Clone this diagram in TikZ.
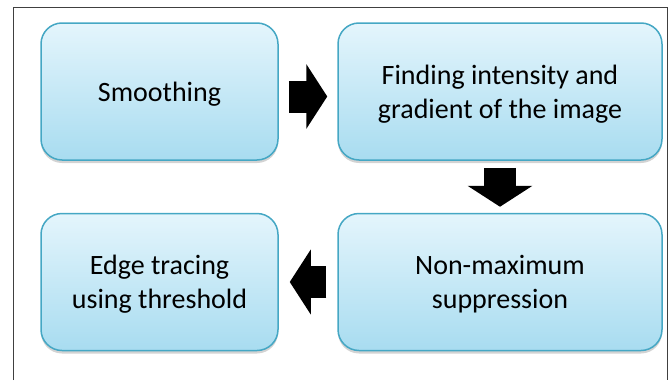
\documentclass[tikz,border=0pt]{standalone}
\usepackage{fontspec}
\setmainfont{Carlito}
\usepackage{xcolor}
\usetikzlibrary{arrows.meta,shadows}

\definecolor{boxtop}{HTML}{E4F5FC}
\definecolor{boxbottom}{HTML}{A8DCF0}
\definecolor{boxline}{HTML}{45A7C4}

\begin{document}
\begin{tikzpicture}[x=1pt,y=-1pt,
    stage/.style={draw=boxline, line width=1.5pt, rounded corners=21pt,
        top color=boxtop, bottom color=boxbottom, minimum height=137pt,
        align=center, text=black, text depth=0pt, font=\fontsize{28}{34}\selectfont,
        drop shadow={shadow xshift=0pt, shadow yshift=-3pt, opacity=0.35}},
    flow/.style={line width=32pt, -{Triangle[width=64pt,length=21pt]}}]
    \useasboundingbox (0,0) rectangle (671,380);

    % Frame
    \draw[line width=1pt, black!75] (13,380) -- (13,7) -- (667,7) -- (667,380);

    % Stages
    \node[stage, minimum width=237pt] (smooth) at (159.5,91.5) {Smoothing};
    \node[stage, minimum width=324pt] (gradient) at (500,91.5) {Finding intensity and\\gradient of the image};
    \node[stage, minimum width=324pt] (nms) at (500,282) {Non-maximum\\suppression};
    \node[stage, minimum width=237pt] (edge) at (159.5,282) {Edge tracing\\using threshold};

    % Block arrows
    \draw[flow, shorten <=10pt, shorten >=10pt] ([yshift=-5pt]smooth.east) -- ([yshift=-5pt]gradient.west);
    \draw[flow, shorten <=7pt, shorten >=6pt] (gradient.south) -- (nms.north);
    \draw[flow, shorten <=11pt, shorten >=11pt] (nms.west) -- (edge.east);
\end{tikzpicture}
\end{document}
